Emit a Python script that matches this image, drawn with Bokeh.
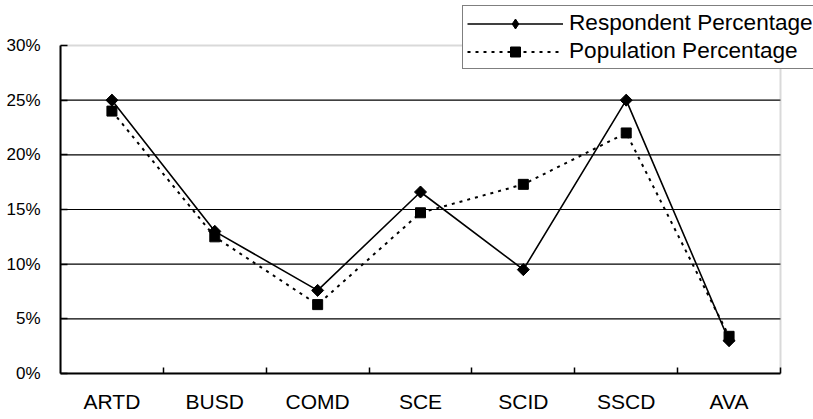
import numpy as np
from bokeh.plotting import figure
from bokeh.models import (Range1d, FixedTicker, PrintfTickFormatter, Legend,
                          LegendItem, ColumnDataSource, BoxAnnotation)
from bokeh.embed import file_html
from bokeh.resources import INLINE

categories = ["ARTD", "BUSD", "COMD", "SCE", "SCID", "SSCD", "AVA"]
respondent = [25.0, 13.0, 7.6, 16.6, 9.5, 25.0, 3.0]
population = [24.0, 12.5, 6.3, 14.7, 17.3, 22.0, 3.4]
y_ticks = [0, 5, 10, 15, 20, 25, 30]

n = len(categories)
y_max = y_ticks[-1]
xs = [i + 0.5 for i in range(n)]
src = ColumnDataSource(dict(x=xs, cat=categories, r=respondent, p=population))

FONT = "Liberation Sans"

W, H = 813, 419
LEFT, BOTTOM = 60, 46
PLOT_RIGHT_PX, PLOT_TOP_PX = 780, 45   # visible plot-area edges in page px
frame_w = W - LEFT
frame_h = H - BOTTOM
x_end = n * frame_w / (PLOT_RIGHT_PX - LEFT)
y_end = y_max * frame_h / (frame_h - PLOT_TOP_PX)

p = figure(width=W, height=H, output_backend="svg", toolbar_location=None,
           x_range=Range1d(0, x_end), y_range=Range1d(0, y_end),
           min_border_left=LEFT, min_border_right=0, min_border_top=0,
           min_border_bottom=BOTTOM)
p.background_fill_color = "white"
p.border_fill_color = "white"
p.outline_line_color = None

# plot-area border (grey)
p.add_layout(BoxAnnotation(left=0, right=n, bottom=0, top=y_max,
                           fill_alpha=0, line_color="#808080", line_width=2,
                           level="underlay"))

# horizontal grid lines limited to the plot area
grid_ticks = y_ticks[1:-1]
p.segment(x0=[0] * len(grid_ticks), x1=[n] * len(grid_ticks),
          y0=grid_ticks, y1=grid_ticks, line_color="black", line_width=1.2,
          level="underlay")
p.xgrid.visible = False
p.ygrid.visible = False

# x axis
p.xaxis.bounds = (0, n)
p.xaxis.ticker = FixedTicker(ticks=xs, minor_ticks=list(range(1, n + 1)))
p.xaxis.major_label_overrides = {x: c for x, c in zip(xs, categories)}
p.xaxis.major_tick_line_color = None
p.xaxis.major_tick_in = 0
p.xaxis.major_tick_out = 0
p.xaxis.minor_tick_in = 6
p.xaxis.minor_tick_out = 0
p.xaxis.minor_tick_line_color = "black"
p.xaxis.minor_tick_line_width = 1.5
p.xaxis.axis_line_color = "black"
p.xaxis.axis_line_width = 2
p.xaxis.major_label_standoff = 16
p.xaxis.major_label_text_font = FONT
p.xaxis.major_label_text_font_size = "21px"
p.xaxis.major_label_text_color = "black"

# y axis
p.yaxis.bounds = (0, y_max)
p.yaxis.ticker = FixedTicker(ticks=y_ticks)
p.yaxis.formatter = PrintfTickFormatter(format="%d%%")
p.yaxis.major_tick_in = 7
p.yaxis.major_tick_out = 0
p.yaxis.major_tick_line_color = "black"
p.yaxis.major_tick_line_width = 1.5
p.yaxis.minor_tick_line_color = None
p.yaxis.axis_line_color = "black"
p.yaxis.axis_line_width = 2
p.yaxis.major_label_standoff = 20
p.yaxis.major_label_text_font = FONT
p.yaxis.major_label_text_font_size = "17px"
p.yaxis.major_label_text_color = "black"

# series
l1 = p.line("x", "p", source=src, line_color="black", line_width=2, line_dash="3 5")
s1 = p.scatter("x", "p", source=src, marker="square", size=10,
               fill_color="black", line_color="black")
l0 = p.line("x", "r", source=src, line_color="black", line_width=1.6)
# diamond key (used by the legend, hidden beneath the rotated squares in the plot)
s0_key = p.scatter("x", "r", source=src, marker="diamond", size=11,
                   fill_color="black", line_color="black")
s0 = p.scatter("x", "r", source=src, marker="square", angle=np.pi / 4, size=8.5,
               fill_color="black", line_color="black")

legend = Legend(items=[
    LegendItem(label="Respondent Percentage", renderers=[l0, s0_key]),
    LegendItem(label="Population Percentage", renderers=[l1, s1]),
], location=(402, 304))
legend.border_line_color = "black"
legend.border_line_width = 1.5
legend.background_fill_color = "white"
legend.background_fill_alpha = 1
legend.padding = 4
legend.margin = 0
legend.spacing = 2
legend.glyph_width = 96
legend.glyph_height = 25
legend.label_height = 25
legend.label_width = 270
legend.label_standoff = 6
legend.label_text_font = FONT
legend.label_text_font_size = "22.6px"
legend.label_text_color = "black"
p.add_layout(legend, "center")

open("out.html", "w").write(file_html(p, INLINE))
